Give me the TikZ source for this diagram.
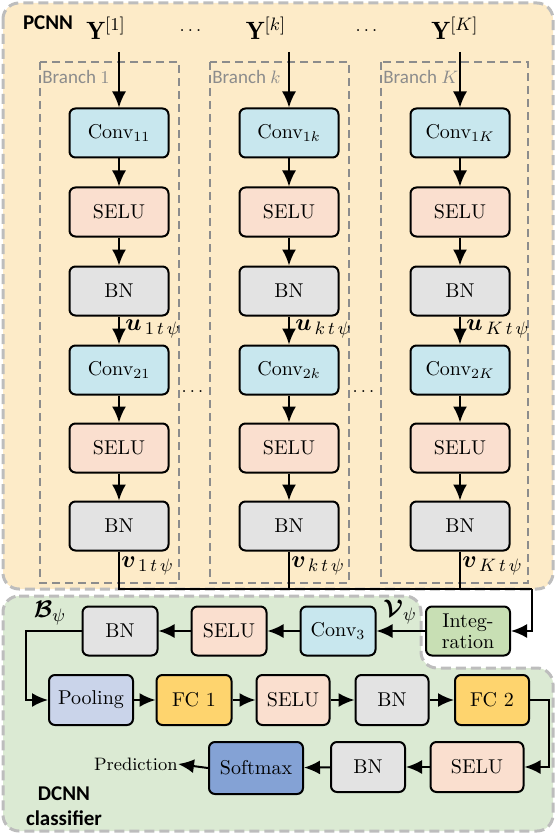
\documentclass[tikz,border=0pt]{standalone}
\usepackage{amsmath}
\usepackage{bm}
\usepackage{fontspec}
\newfontfamily\carlito{Carlito}
\usetikzlibrary{arrows.meta,positioning,calc}

\definecolor{pcnnbg}{HTML}{FDEBC8}
\definecolor{dcnnbg}{HTML}{DBEAD3}
\definecolor{convblue}{HTML}{C8E7EE}
\definecolor{selupeach}{HTML}{FADFCF}
\definecolor{bngray}{HTML}{E3E3E3}
\definecolor{integgreen}{HTML}{C8DFB4}
\definecolor{poolblue}{HTML}{CAD4EA}
\definecolor{fcyellow}{HTML}{FED46E}
\definecolor{softblue}{HTML}{84A2D5}
\definecolor{dashgray}{HTML}{8C8C8C}
\definecolor{regiongray}{HTML}{BDBDBD}

\begin{document}
\begin{tikzpicture}[x=0.5pt,y=-0.5pt,
    blk/.style={draw,line width=1pt,rounded corners=3pt,minimum height=24.5pt,
        inner sep=1pt,font=\fontsize{10}{10.5}\selectfont},
    conv/.style={blk,fill=convblue},
    selu/.style={blk,fill=selupeach},
    bn/.style={blk,fill=bngray},
    arr/.style={-{Latex[length=8pt,width=7pt]},line width=1pt},
    wire/.style={line width=1pt},
    branch/.style={draw=dashgray,line width=0.8pt,dash pattern=on 4pt off 2.5pt},
    region/.style={draw=regiongray,line width=1.5pt,dash pattern=on 5pt off 2.5pt,rounded corners=8pt},
    brlabel/.style={anchor=west,inner sep=0pt,text=dashgray,font=\carlito\fontsize{9.5}{11}\selectfont},
    sectlabel/.style={inner sep=0pt,align=center,font=\carlito\bfseries\fontsize{10.5}{12.5}\selectfont},
    vlabel/.style={inner sep=0pt,font=\fontsize{12.5}{14}\selectfont},
    txt/.style={inner sep=0pt,font=\fontsize{9}{10}\selectfont}]
\useasboundingbox (0,0) rectangle (556,834);

% Regions
\draw[region,fill=pcnnbg] (3,3) rectangle (553,589);
\draw[region,fill=dcnnbg] (3,596) -- (421,596) -- (421,668) -- (553,668)
    -- (553,831) -- (3,831) -- cycle;
\node[sectlabel] (pcnnlbl) at (48,23) {PCNN};
\node[sectlabel] (dcnnlbl) at (64,806) {DCNN\\classifier};

% Branches of the PCNN
\foreach \br/\x/\l/\r/\yx in {1/119/40/179/106, k/289/210/349/266, K/460/381/528/455} {
    \draw[branch] (\l,62) rectangle (\r,583);
    \node[brlabel] (br\br) at (\l+2,77) {Branch $\br$};
    \node[vlabel] (y\br) at (\yx,28) {$\mathbf{Y}^{[\br]}$};
    \coordinate (in\br) at (\x,52);
    \node[conv,minimum width=49.5pt] (c1\br) at (\x,133) {Conv$_{1\br}$};
    \node[selu,minimum width=49.5pt] (s1\br) at (\x,212) {SELU};
    \node[bn,minimum width=49.5pt] (n1\br) at (\x,291) {BN};
    \node[conv,minimum width=49.5pt] (c2\br) at (\x,370) {Conv$_{2\br}$};
    \node[selu,minimum width=49.5pt] (s2\br) at (\x,448) {SELU};
    \node[bn,minimum width=49.5pt] (n2\br) at (\x,526) {BN};
    \node[vlabel,anchor=west] (u\br) at (\x+6,329) {$\boldsymbol{u}_{\,\br\,t\,\psi}$};
    \node[vlabel,anchor=west] (v\br) at (\x+2,566) {$\boldsymbol{v}_{\,\br\,t\,\psi}$};
    \draw[arr] (in\br) -- (c1\br);
    \draw[arr] (c1\br) -- (s1\br);
    \draw[arr] (s1\br) -- (n1\br);
    \draw[arr] (n1\br) -- (c2\br);
    \draw[arr] (c2\br) -- (s2\br);
    \draw[arr] (s2\br) -- (n2\br);
}
\node[txt] (dtop1) at (192,31) {$\dots$};
\node[txt] (dtop2) at (368,31) {$\dots$};
\node[txt] (dmid1) at (194,392) {$\dots$};
\node[txt] (dmid2) at (365,392) {$\dots$};

% DCNN classifier
\node[blk,fill=integgreen,minimum width=42pt,align=center] (integ) at (468,631) {Integ-\\ration};
\node[conv,minimum width=37.5pt] (conv3) at (338,631) {Conv$_3$};
\node[selu,minimum width=37.5pt] (seluA) at (229,631) {SELU};
\node[bn,minimum width=37.5pt] (bnA) at (120,631) {BN};
\node[vlabel] (vpsi) at (400,612) {$\boldsymbol{\mathcal{V}}_{\psi}$};
\node[vlabel] (bpsi) at (50,613) {$\boldsymbol{\mathcal{B}}_{\psi}$};

\node[blk,fill=poolblue,minimum width=42pt,minimum height=25pt] (pool) at (91,700) {Pooling};
\node[blk,fill=fcyellow,minimum width=37.5pt,minimum height=25pt] (fc1) at (194,700) {FC 1};
\node[selu,minimum width=36.5pt,minimum height=25pt] (seluB) at (293,700) {SELU};
\node[bn,minimum width=36.5pt,minimum height=25pt] (bnB) at (392,700) {BN};
\node[blk,fill=fcyellow,minimum width=37pt,minimum height=25pt] (fc2) at (492,700) {FC 2};

\node[selu,minimum width=46.5pt,minimum height=25pt] (seluC) at (477,767) {SELU};
\node[bn,minimum width=37pt,minimum height=25pt] (bnC) at (368,767) {BN};
\node[blk,fill=softblue,minimum width=47pt,minimum height=26pt] (soft) at (256,768) {Softmax};
\node[txt,anchor=east] (pred) at (178,764) {Prediction};

% Connections
\coordinate (bus) at (532,589);
\draw[wire] (n21.south) |- (bus);
\draw[wire] (n2k.south) -- (n2k.south |- bus);
\draw[wire] (n2K.south) -- (n2K.south |- bus);
\draw[arr] (bus) |- (integ.east);
\draw[arr] (integ) -- (conv3);
\draw[arr] (conv3) -- (seluA);
\draw[arr] (seluA) -- (bnA);
\draw[arr] (bnA.west) -- ++(-56,0) |- (pool.west);
\draw[arr] (pool) -- (fc1);
\draw[arr] (fc1) -- (seluB);
\draw[arr] (seluB) -- (bnB);
\draw[arr] (bnB) -- (fc2);
\draw[arr] (fc2.east) -- ++(19,0) |- (seluC.east);
\draw[arr] (seluC) -- (bnC);
\draw[arr] (bnC) -- (soft);
\draw[arr] (soft.west) -- (pred.east);
\end{tikzpicture}
\end{document}
